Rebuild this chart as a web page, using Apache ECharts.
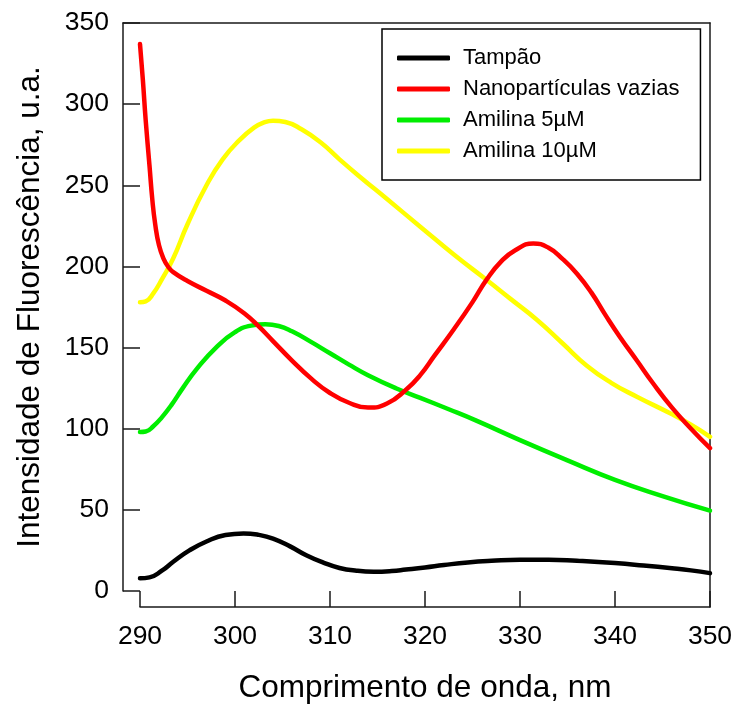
<!DOCTYPE html>
<html>
<head>
<meta charset="utf-8">
<script src="https://cdn.jsdelivr.net/npm/echarts@6/dist/echarts.min.js"></script>
<style>
  html, body { margin: 0; padding: 0; background: #fff; }
  #chart { width: 733px; height: 704px; }
</style>
</head>
<body>
<div id="chart"></div>
<script>
const seriesNames = ["Tampão", "Nanopartículas vazias", "Amilina 5µM", "Amilina 10µM"];
const seriesColors = ["#000000", "#ff0000", "#00ee00", "#ffff00"];
const xTicks = [290, 300, 310, 320, 330, 340, 350];
const yTicks = [0, 50, 100, 150, 200, 250, 300, 350];

const tampao = [
  [290, 7.8], [291, 8.4], [292.3, 12.5], [293.5, 18], [295.2, 25], [297, 30.5], [299, 34.5],
  [300.9, 35.5], [302.5, 34.6], [304, 32.3], [305.8, 27.5], [307.5, 22], [309.3, 17.5],
  [311, 14.2], [312.8, 12.5], [314.6, 11.9], [316.5, 12.3], [318, 13.2], [320, 14.5],
  [322, 16], [324.5, 17.6], [327, 18.6], [330, 19.3], [333, 19.3], [336, 18.6],
  [340, 17.2], [343, 15.7], [346, 14], [348, 12.7], [350, 11]
];
const nanoparticulas = [
  [290, 337], [290.3, 315], [290.6, 290], [291, 262], [291.3, 241], [291.6, 226],
  [292, 213], [292.5, 204.5], [293, 199.5], [293.5, 196.5], [295, 191], [297, 185],
  [299, 179], [301, 171], [302.5, 163], [304, 154], [306, 142], [308, 131],
  [310, 122], [312, 116], [314, 113], [316, 115.5], [318, 124], [319.5, 133],
  [321, 145], [323, 161], [325, 178], [326.5, 192], [328, 203], [329.5, 210],
  [331.4, 214.2], [333, 211.5], [334.5, 204.5], [336, 195.5],
  [337.5, 184], [339, 170], [340.5, 156.7], [342.3, 142], [344, 128],
  [346, 113], [348, 100], [350, 88]
];
const amilina5 = [
  [290, 98], [290.6, 98.3], [291.4, 101.5], [292.3, 107], [293.3, 114.5], [294.5, 125],
  [296, 137], [298, 150], [300, 159.5], [301.7, 163.5], [303.2, 164.3], [304.6, 163.3],
  [306, 160], [308, 153.5], [310, 146.5], [312, 139.5], [314, 133], [317, 124.8],
  [319.5, 119], [322.5, 112], [325.4, 105], [330, 93], [335, 80.5],
  [340, 68.5], [345, 58.5], [350, 49.5]
];
const amilina10 = [
  [290, 178], [290.6, 178.5], [291.4, 183.4], [292.3, 192], [293.5, 205], [295, 226],
  [297, 250], [298.7, 266], [300.5, 278], [302, 285.5], [303, 288.6], [304, 289.8],
  [305.3, 289], [307, 284.5], [309, 276.5], [311, 266], [313.2, 255], [316, 241.5],
  [319.5, 224.5], [323, 207.5], [326.5, 191.6], [329, 180], [331.8, 167],
  [334.5, 152.5], [337, 139], [339.6, 128.3], [342.3, 119.7], [345.8, 109.5],
  [348, 102.5], [350, 95]
];
const seriesData = [tampao, nanoparticulas, amilina5, amilina10];

const FONT = "Liberation Sans, Arial, Helvetica, sans-serif";
const AX = "#1a1a1a";
const axLine = { show: true, onZero: false, lineStyle: { color: AX, width: 1.5 } };
const hiddenAxis = {
  axisLine: { show: false, onZero: false }, axisTick: { show: false },
  axisLabel: { show: false }, splitLine: { show: false }
};

const chart = echarts.init(document.getElementById("chart"), null, { renderer: "canvas" });
chart.setOption({
  animation: false,
  backgroundColor: "#ffffff",
  grid: [
    { left: 140, right: 23, top: 23, bottom: 113, outerBoundsMode: "none", containLabel: false },   // data
    { left: 140, right: 23, top: 23, bottom: 97, outerBoundsMode: "none", containLabel: false },    // x axis + right frame
    { left: 123, right: 23, top: 23, bottom: 113, outerBoundsMode: "none", containLabel: false }    // y axis + top frame
  ],
  legend: {
    orient: "vertical",
    left: 382,
    top: 29,
    padding: [18, 21, 18, 15],
    itemGap: 9,
    itemWidth: 53,
    itemHeight: 5,
    icon: "roundRect",
    backgroundColor: "#ffffff",
    borderColor: "#000000",
    borderWidth: 1.5,
    borderRadius: 0,
    data: seriesNames,
    textStyle: {
      fontFamily: FONT,
      fontSize: 22,
      color: "#000",
      lineHeight: 22,
      padding: [0, 0, 0, 8]
    }
  },
  xAxis: [
    Object.assign({ type: "value", gridIndex: 0, min: xTicks[0], max: xTicks[xTicks.length - 1] }, hiddenAxis),
    {
      type: "value",
      gridIndex: 1,
      position: "bottom",
      min: xTicks[0],
      max: xTicks[xTicks.length - 1],
      interval: 10,
      name: "Comprimento de onda, nm",
      nameLocation: "middle",
      nameGap: 65,
      nameTextStyle: { fontFamily: FONT, fontSize: 31.5, color: "#000" },
      axisLine: axLine,
      axisTick: { show: true, inside: true, length: 16, lineStyle: { color: AX, width: 1.5 } },
      axisLabel: { fontFamily: FONT, fontSize: 26.5, color: "#000", margin: 16 },
      splitLine: { show: false }
    },
    {
      type: "value", gridIndex: 2, position: "top", min: 0, max: 1,
      axisLine: axLine, axisTick: { show: false }, axisLabel: { show: false }, splitLine: { show: false }
    }
  ],
  yAxis: [
    Object.assign({ type: "value", gridIndex: 0, min: yTicks[0], max: yTicks[yTicks.length - 1] }, hiddenAxis),
    {
      type: "value", gridIndex: 1, position: "right", min: 0, max: 1,
      axisLine: axLine, axisTick: { show: false }, axisLabel: { show: false }, splitLine: { show: false }
    },
    {
      type: "value",
      gridIndex: 2,
      position: "left",
      min: yTicks[0],
      max: yTicks[yTicks.length - 1],
      interval: 50,
      name: "Intensidade de Fluorescência, u.a.",
      nameLocation: "middle",
      nameGap: 77,
      nameTextStyle: { fontFamily: FONT, fontSize: 31.5, color: "#000" },
      axisLine: axLine,
      axisTick: { show: true, inside: true, length: 17, lineStyle: { color: AX, width: 1.5 } },
      axisLabel: { fontFamily: FONT, fontSize: 26.5, color: "#000", margin: 14 },
      splitLine: { show: false }
    }
  ],
  series: seriesNames.map((name, i) => ({
    name: name,
    type: "line",
    xAxisIndex: 0,
    yAxisIndex: 0,
    data: seriesData[i],
    smooth: 0.5,
    showSymbol: false,
    symbol: "none",
    color: seriesColors[i],
    lineStyle: { color: seriesColors[i], width: 4.5, cap: "round", join: "round" },
    itemStyle: { color: seriesColors[i] },
    z: 2 + (3 - i)
  }))
});
</script>
</body>
</html>
